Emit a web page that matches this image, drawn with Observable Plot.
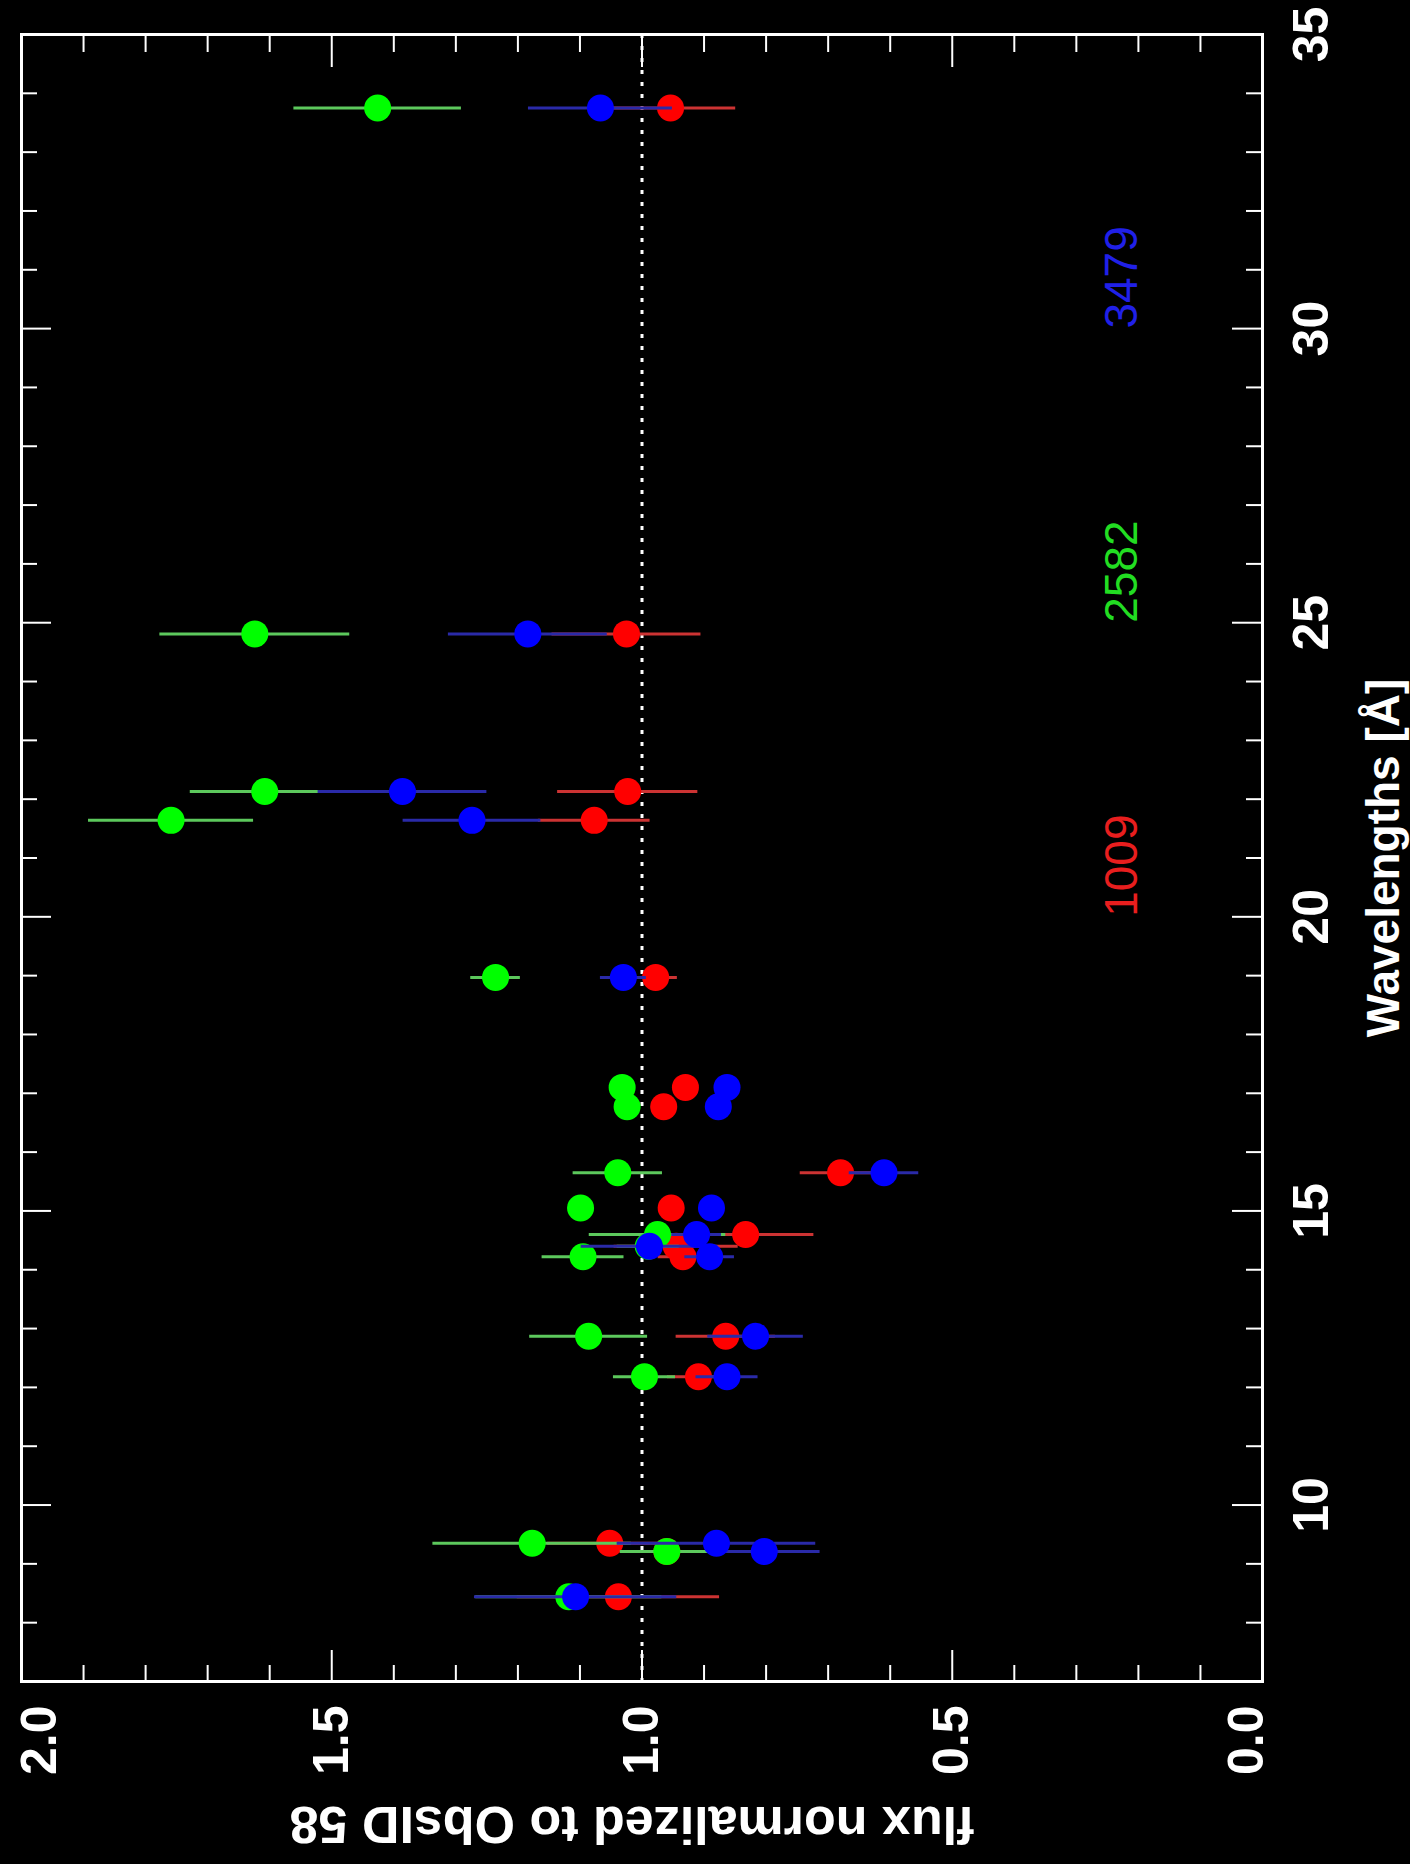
<!DOCTYPE html>
<html>
<head>
<meta charset="utf-8">
<script src="https://cdn.jsdelivr.net/npm/d3@7"></script>
<script src="https://cdn.jsdelivr.net/npm/@observablehq/plot@0.6"></script>
<style>
  html, body { margin: 0; padding: 0; background: #000; }
  body { width: 1410px; height: 1864px; overflow: hidden; position: relative; }
  #wrap { position: absolute; left: 0; top: 1864px; width: 1864px; height: 1410px;
          transform-origin: 0 0; transform: rotate(-90deg); }
</style>
</head>
<body>
<div id="wrap"></div>
<script>
// Wavelengths (Å) of the measured lines
const wavelength = [8.44, 9.21, 9.35, 12.18, 12.87, 14.22, 14.40, 14.60, 15.05, 15.65, 16.77, 17.10, 18.97, 21.64, 22.13, 24.81, 33.75];

// ObsID 1009 (red)
const flux1009 = [1.038, 0.960, 1.052, 0.909, 0.865, 0.934, 0.945, 0.833, 0.953, 0.680, 0.965, 0.930, 0.978, 1.077, 1.023, 1.025, 0.954];
const err1009  = [0.163, 0.075, 0.100, 0.050, 0.080, 0.040, 0.100, 0.110, 0.020, 0.065, 0.020, 0.020, 0.035, 0.090, 0.113, 0.120, 0.105];

// ObsID 2582 (green)
const flux2582 = [1.118, 0.960, 1.177, 0.996, 1.086, 1.095, 0.990, 0.975, 1.099, 1.039, 1.024, 1.032, 1.236, 1.759, 1.608, 1.624, 1.426];
const err2582  = [0.150, 0.075, 0.160, 0.050, 0.095, 0.066, 0.050, 0.110, 0.020, 0.072, 0.020, 0.020, 0.040, 0.133, 0.120, 0.153, 0.135];

// ObsID 3479 (blue)
const flux3479 = [1.107, 0.803, 0.880, 0.863, 0.817, 0.891, 0.988, 0.912, 0.888, 0.610, 0.877, 0.863, 1.030, 1.274, 1.386, 1.184, 1.067];
const err3479  = [0.163, 0.090, 0.160, 0.050, 0.077, 0.040, 0.110, 0.040, 0.020, 0.056, 0.020, 0.020, 0.037, 0.111, 0.136, 0.128, 0.116];

const seriesNames = ["1009", "2582", "3479"];
const xTickLabels = [10, 15, 20, 25, 30, 35];
const yTickLabels = [0, 0.5, 1, 1.5, 2];

const series = [
  {name: seriesNames[0], flux: flux1009, err: err1009, dot: "#ff0000", bar: "#cc3333", label: "#e81e1e"},
  {name: seriesNames[1], flux: flux2582, err: err2582, dot: "#00ff00", bar: "#5cc85c", label: "#22dd22"},
  {name: seriesNames[2], flux: flux3479, err: err3479, dot: "#0000ff", bar: "#2a2aa8", label: "#2020e8"}
];

const frameW = 1864 - 182 - 35;
const frameH = 1410 - 21 - 148;
const minorX = d3.range(8, 35).filter(d => d % 5 !== 0);
const majorX = [10, 15, 20, 25, 30];
const minorY = d3.range(1, 20).filter(d => d % 5 !== 0).map(d => d / 10);
const majorY = [0.5, 1.0, 1.5];

const seriesMarks = series.flatMap(s => {
  const rows = wavelength.map((w, i) => ({wl: w, f: s.flux[i], e: s.err[i]}));
  return [
    Plot.ruleX(rows, {x: "wl", y1: d => d.f - d.e, y2: d => d.f + d.e, stroke: s.bar, strokeWidth: 3}),
    Plot.dot(rows, {x: "wl", y: "f", r: 13.5, fill: s.dot, stroke: "none"})
  ];
});

const tickStyle = {stroke: "white", strokeWidth: 2};
const lblStyle = {fill: "white", fontSize: 50, fontWeight: "bold", fontFamily: "Liberation Sans, sans-serif"};

const chart = Plot.plot({
  width: 1864,
  height: 1410,
  marginLeft: 182,
  marginRight: 35,
  marginTop: 21,
  marginBottom: 148,
  x: {domain: [7, 35], axis: null},
  y: {domain: [0, 2], axis: null},
  style: {background: "black", color: "white", fontFamily: "Liberation Sans, sans-serif", overflow: "visible"},
  marks: [
    Plot.ruleY([1], {stroke: "white", strokeWidth: 3, strokeDasharray: "4,8"}),
    ...seriesMarks,
    Plot.frame({stroke: "white", strokeWidth: 3}),
    // wavelength ticks (inward, bottom and top)
    Plot.tickX(minorX, {x: d => d, ...tickStyle, insetTop: frameH - 16}),
    Plot.tickX(minorX, {x: d => d, ...tickStyle, insetBottom: frameH - 16}),
    Plot.tickX(majorX, {x: d => d, ...tickStyle, insetTop: frameH - 30}),
    Plot.tickX(majorX, {x: d => d, ...tickStyle, insetBottom: frameH - 30}),
    // flux ticks (inward, left and right)
    Plot.tickY(minorY, {y: d => d, ...tickStyle, insetRight: frameW - 17}),
    Plot.tickY(minorY, {y: d => d, ...tickStyle, insetLeft: frameW - 17}),
    Plot.tickY(majorY, {y: d => d, ...tickStyle, insetRight: frameW - 32}),
    Plot.tickY(majorY, {y: d => d, ...tickStyle, insetLeft: frameW - 32}),
    // wavelength tick labels
    Plot.text(xTickLabels, {x: d => d, frameAnchor: "bottom", lineAnchor: "top", dy: 30, text: d => String(d), ...lblStyle}),
    // flux tick labels
    Plot.text(yTickLabels.filter(d => d > 0 && d < 2), {y: d => d, frameAnchor: "left", textAnchor: "end", dx: -24, text: d => d.toFixed(1), ...lblStyle}),
    Plot.text(yTickLabels.filter(d => d === 2), {y: d => d, frameAnchor: "left", textAnchor: "end", dx: -24, dy: 18, text: d => d.toFixed(1), ...lblStyle}),
    Plot.text(yTickLabels.filter(d => d === 0), {y: d => d, frameAnchor: "left", textAnchor: "end", dx: -24, dy: -16, text: d => d.toFixed(1), ...lblStyle}),
    // axis titles
    Plot.text(["Wavelengths [Å]"], {frameAnchor: "bottom", dy: 136, textAnchor: "middle", fill: "white", fontSize: 46, fontWeight: "bold"}),
    Plot.text(["flux normalized to ObsID 58"], {frameAnchor: "left", rotate: -90, textAnchor: "middle", dx: -142, dy: -10, fill: "white", fontSize: 52, fontWeight: "bold"}),
    // series labels
    Plot.text(series, {x: (d, i) => [20, 25, 30][i], y: 0.226, text: "name", fill: d => d.label, textAnchor: "start", fontSize: 46})
  ]
});

document.getElementById("wrap").appendChild(chart);
</script>
</body>
</html>
